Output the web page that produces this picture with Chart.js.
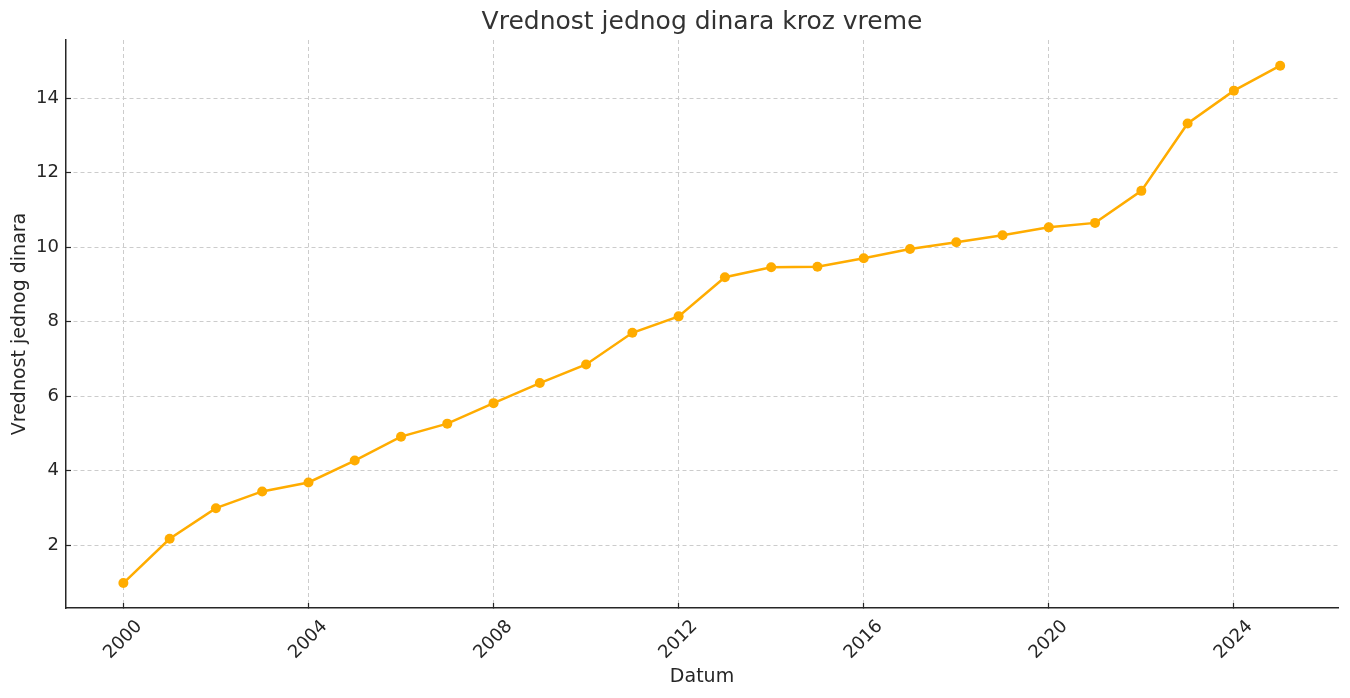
<!DOCTYPE html>
<html>
<head>
<meta charset="utf-8">
<script src="https://cdn.jsdelivr.net/npm/chart.js@4/dist/chart.umd.min.js"></script>
<style>
  html, body { margin: 0; padding: 0; background: #fff; }
  canvas { display: block; }
</style>
</head>
<body>
<canvas id="c" width="1350" height="698"></canvas>
<script>
const years = [2000, 2001, 2002, 2003, 2004, 2005, 2006, 2007, 2008, 2009, 2010, 2011, 2012,
               2013, 2014, 2015, 2016, 2017, 2018, 2019, 2020, 2021, 2022, 2023, 2024, 2025];
const values = [0.98, 2.17, 2.99, 3.44, 3.68, 4.27, 4.91, 5.26, 5.81, 6.35, 6.85, 7.70, 8.14,
                9.19, 9.46, 9.47, 9.70, 9.95, 10.13, 10.32, 10.53, 10.65, 11.51, 13.32, 14.20, 14.87];
const xTicks = [2000, 2004, 2008, 2012, 2016, 2020, 2024];
const yTicks = [2, 4, 6, 8, 10, 12, 14];

const titleText = 'Vrednost jednog dinara kroz vreme';
const xTitle = 'Datum';
const yTitle = 'Vrednost jednog dinara';

const FONT = 'DejaVu Sans';
const lineColor = '#FFAC00';

new Chart(document.getElementById('c'), {
  type: 'line',
  data: {
    datasets: [{
      data: years.map((y, i) => ({ x: y, y: values[i] })),
      borderColor: lineColor,
      backgroundColor: lineColor,
      pointBackgroundColor: lineColor,
      pointBorderColor: lineColor,
      pointRadius: 5,
      pointBorderWidth: 0,
      borderWidth: 2.5,
      tension: 0,
      fill: false
    }]
  },
  options: {
    responsive: false,
    animation: false,
    events: [],
    layout: { padding: { left: 0, right: 12, top: 0, bottom: 0 } },
    plugins: {
      legend: { display: false },
      tooltip: { enabled: false },
      title: {
        display: true,
        fullSize: false,
        text: titleText,
        color: '#333333',
        font: { family: FONT, size: 25, weight: 'normal' },
        padding: { top: 7, bottom: 3 }
      }
    },
    scales: {
      x: {
        type: 'linear',
        min: 1998.76,
        max: 2026.25,
        afterBuildTicks: (s) => { s.ticks = xTicks.map(v => ({ value: v })); },
        afterFit: (s) => { s.height = 90; },
        ticks: {
          color: '#262626',
          font: { family: FONT, size: 18 },
          maxRotation: 45,
          minRotation: 45,
          padding: 13,
          labelOffset: 16,
          callback: (v) => String(v)
        },
        grid: {
          color: '#cccccc',
          lineWidth: 1,
          tickColor: '#262626',
          tickLength: -5,
          tickWidth: 1.2
        },
        border: { display: true, color: '#262626', width: 1.5, dash: [4, 3] },
        title: {
          display: true,
          text: xTitle,
          color: '#262626',
          font: { family: FONT, size: 19 },
          padding: { top: 0, bottom: 9.6 }
        }
      },
      y: {
        type: 'linear',
        min: 0.31,
        max: 15.56,
        afterBuildTicks: (s) => { s.ticks = yTicks.map(v => ({ value: v })); },
        afterFit: (s) => { s.width = 66; },
        ticks: {
          color: '#262626',
          font: { family: FONT, size: 18 },
          padding: 12,
          callback: (v) => String(v)
        },
        grid: {
          color: '#cccccc',
          lineWidth: 1,
          tickColor: '#262626',
          tickLength: -5,
          tickWidth: 1.2
        },
        border: { display: true, color: '#262626', width: 1.5, dash: [4, 3] },
        title: {
          display: true,
          text: yTitle,
          color: '#262626',
          font: { family: FONT, size: 19 },
          padding: { top: 9, bottom: 0 }
        }
      }
    }
  }
});
</script>
</body>
</html>
